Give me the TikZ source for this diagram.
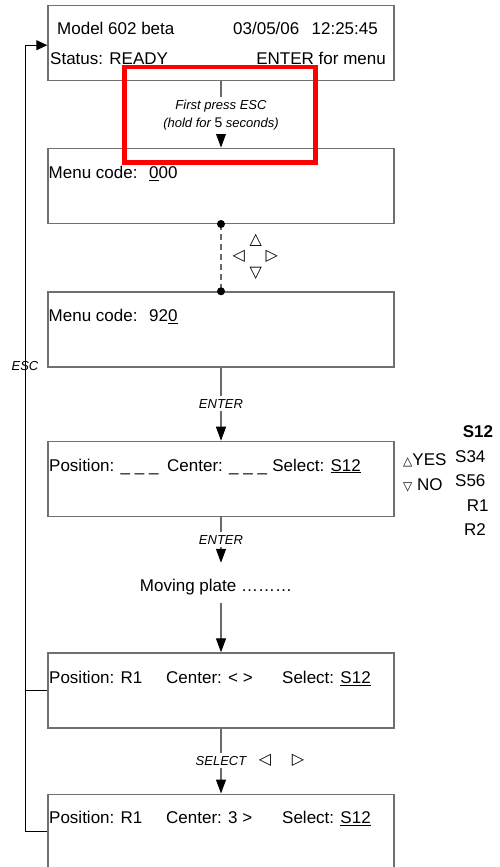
\documentclass[tikz,border=0pt]{standalone}
\usepackage{fontspec}
\setmainfont{Liberation Sans}
\newfontfamily\dejavu{DejaVu Sans}
\usetikzlibrary{arrows.meta}
\definecolor{boxgray}{HTML}{707070}
\definecolor{linegray}{HTML}{6A6A6A}
\newsavebox\ulbox
\newcommand\myul[1]{\sbox\ulbox{#1}\rlap{\rule[-2.4pt]{\wd\ulbox}{1.2pt}}\usebox\ulbox}
\tikzset{
  lcdbox/.style={draw=boxgray, line width=1.4pt, minimum width=346pt, minimum height=75pt, inner sep=0pt},
  maintxt/.style={font=\fontsize{17}{20}\selectfont, inner sep=0pt, anchor=base west},
  lbl/.style={font=\fontsize{13}{18}\selectfont\itshape, fill=white, inner xsep=2pt, inner ysep=3pt, anchor=base},
  conn/.style={draw=linegray, line width=1.3pt},
  arr/.style={-{Triangle[width=10pt,length=14pt,color=black]}},
  loopline/.style={draw=black, line width=1pt},
  tri/.style={font=\dejavu\fontsize{16}{16}\selectfont, inner sep=0pt}
}
\begin{document}
\begin{tikzpicture}[x=1pt,y=-1pt]
\useasboundingbox (0,0) rectangle (500,867);
\clip (0,0) rectangle (500,867);

% boxes
\node[lcdbox] (b1) at (221,43.2) {};
\node[lcdbox] (b2) at (221,185.8) {};
\node[lcdbox] (b3) at (221,329.5) {};
\node[lcdbox] (b4) at (221,478.9) {};
\node[lcdbox] (b5) at (221,690.5) {};
\node[lcdbox] (b6) at (221,831.7) {};

% box texts
\node[maintxt] (t1a) at (57,35) {Model 602 beta};
\node[maintxt] (t1b) at (233,35) {03/05/06};
\node[maintxt, anchor=base east] (t1c) at (378,35) {12:25:45};
\node[maintxt] (t1d) at (50,65) {Status: READY};
\node[maintxt, anchor=base east] (t1e) at (386,65) {ENTER for menu};

\node[maintxt] (t2a) at (48.5,178.3) {Menu code:};
\node[maintxt] (t2b) at (149,178.3) {\myul{0}00};

\node[maintxt] (t3a) at (48.5,321.7) {Menu code:};
\node[maintxt] (t3b) at (149,321.7) {92\myul{0}};

\node[maintxt] (t4a) at (49,471) {Position: \_ \_ \_};
\node[maintxt] (t4b) at (167,471) {Center: \_ \_ \_};
\node[maintxt, anchor=base east] (t4c) at (361,471) {Select: \myul{S12}};

\node[maintxt] (t5a) at (49,683.3) {Position: R1};
\node[maintxt] (t5b) at (166,683.3) {Center: < >};
\node[maintxt] (t5c) at (282,683.3) {Select: \myul{S12}};

\node[maintxt] (t6a) at (49,823.3) {Position: R1};
\node[maintxt] (t6b) at (166,823.3) {Center: 3 >};
\node[maintxt] (t6c) at (282,823.3) {Select: \myul{S12}};

% side options
\node[maintxt] (yes) at (403,465.7) {{\dejavu\fontsize{12}{12}\selectfont △}YES};
\node[maintxt] (no) at (403,490.7) {{\dejavu\fontsize{12}{12}\selectfont ▽} NO};
\node[maintxt] (s12) at (462.7,437.3) {\bfseries S12};
\node[maintxt] (s34) at (455,462.3) {S34};
\node[maintxt] (s56) at (455,486.7) {S56};
\node[maintxt] (r1) at (466.7,511) {R1};
\node[maintxt] (r2) at (464,535) {R2};

% moving plate
\node[maintxt, anchor=base, text height=28.7pt, text depth=11.3pt] (mp) at (216,591.7) {Moving plate ………};

% connectors
\draw[conn, arr] (b1.south) -- (b2.north);
\draw[conn, dashed, dash pattern=on 6pt off 4pt] (b2.south) -- (b3.north);
\fill[black] (b2.south) circle[radius=4pt];
\fill[black] (b3.north) circle[radius=4pt];
\draw[conn, arr] (b3.south) -- (b4.north);
\draw[conn, arr] (b4.south) -- (b4.south |- mp.north);
\draw[conn, arr] (b5.north |- mp.south) -- (b5.north);
\draw[conn, arr] (b5.south) -- (b6.north);

% left loop
\coordinate (lx) at (25,0);
\draw[loopline, -{Triangle[width=10pt,length=11pt]}] (b6.west) -- (b6.west -| lx) -- ([yshift=-2pt]b1.west -| lx) -- ([yshift=-2pt]b1.west);
\draw[loopline] (b5.west) -- (b5.west -| lx);
\node[lbl, fill=none] (esc) at (25,370.7) {ESC};

% labels
\node[lbl, anchor=center, align=center, minimum height=37pt] (lab1) at (221,115.3) {First press ESC\\(hold for {\upshape\fontsize{14}{14}\selectfont 5} seconds)};
\node[lbl] (ent1) at (221,408.3) {ENTER};
\node[lbl] (ent2) at (221,544.3) {ENTER};
\node[lbl] (sel) at (221,765) {SELECT};

% navigation triangles
\node[tri] (up) at (255.7,240) {△};
\node[tri] (lt) at (238.7,256.5) {◁};
\node[tri] (rt) at (271.7,256.5) {▷};
\node[tri] (dn) at (255.7,273) {▽};
\node[tri] (sl) at (265,760) {◁};
\node[tri] (sr) at (298,760) {▷};

% red highlight
\draw[red, line width=4.4pt] (124.5,67) rectangle (315.5,162.5);
\end{tikzpicture}
\end{document}
